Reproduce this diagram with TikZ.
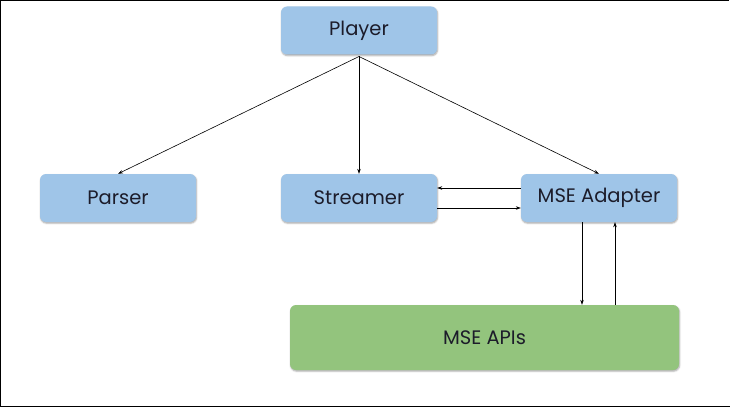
\documentclass[tikz,border=0pt]{standalone}
\usepackage{fontspec}
\setmainfont{Poppins}
\usetikzlibrary{arrows.meta,shadows.blur}
\definecolor{boxblue}{HTML}{9FC5E8}
\definecolor{boxgreen}{HTML}{93C47D}
\definecolor{txt}{HTML}{1C1C2A}
\tikzset{
  box/.style={draw=none, rounded corners=6pt, text=txt, font=\fontsize{19.5}{23}\selectfont,
    blur shadow={shadow xshift=0.6pt, shadow yshift=-1.2pt, shadow blur steps=4, shadow blur radius=1.5pt, shadow opacity=35},
    minimum width=156pt, minimum height=48pt, inner sep=0pt},
  bluebox/.style={box, fill=boxblue},
  greenbox/.style={box, fill=boxgreen},
  conn/.style={-{Stealth[length=5pt,width=3.5pt]}, line width=0.6pt, black}
}
\begin{document}
\begin{tikzpicture}[x=1pt,y=-1pt]
\useasboundingbox (0,0) rectangle (730,409);
\draw[line width=1.2pt] (729,0.6) -- (0.6,0.6) -- (0.6,406.4) -- (730,406.4);
\node[bluebox] (player) at (359,30.5) {Player};
\node[bluebox] (parser) at (118,198) {Parser};
\node[bluebox] (streamer) at (359,198) {Streamer};
\node[bluebox] (adapter) at (599,198) {MSE Adapter};
\node[greenbox, minimum width=389pt, minimum height=65pt] (apis) at (484.5,337.5) {MSE APIs};
\coordinate (pb) at (359,56.5);
\coordinate (down1) at ([xshift=-17pt]adapter.south);
\coordinate (up1) at ([xshift=16pt]adapter.south);
\draw[conn] (pb) -- (parser.north);
\draw[conn] (pb) -- (streamer.north);
\draw[conn] (pb) -- (adapter.north);
\draw[conn] ([yshift=10pt]adapter.west) -- ([yshift=10pt]streamer.east);
\draw[conn] ([yshift=-10pt]streamer.east) -- ([yshift=-10pt]adapter.west);
\draw[conn] (down1) -- (down1 |- apis.north);
\draw[conn] (up1 |- apis.north) -- (up1);
\end{tikzpicture}
\end{document}
